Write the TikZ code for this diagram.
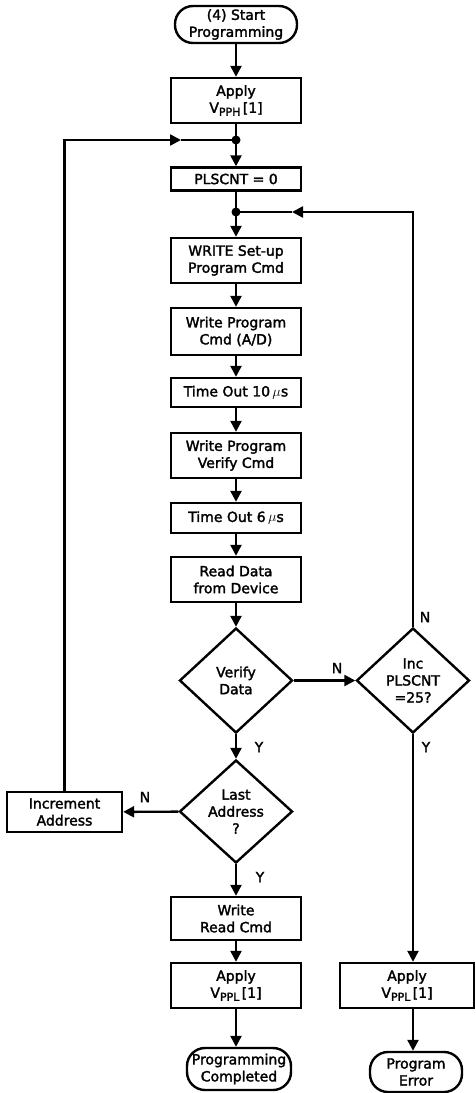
\documentclass[tikz,border=0pt]{standalone}
\usepackage{fontspec}
\setmainfont{DejaVu Sans}[BoldFont=DejaVu Sans,BoldFeatures={FakeBold=2}]
\usetikzlibrary{shapes.geometric,arrows.meta}

\newcommand{\vsub}[1]{V\raisebox{-3pt}{\fontsize{11}{11}\selectfont #1}\,[1]}

\tikzset{
  box/.style={draw,line width=2.4pt,minimum width=130pt,align=center,inner sep=2pt},
  term/.style={draw,line width=2.4pt,rounded corners=18pt,align=center,inner sep=2pt},
  decision/.style={draw,diamond,line width=2.4pt,minimum width=113pt,minimum height=105pt,align=center,inner sep=0pt},
  flow/.style={line width=2.4pt,-{Triangle[length=11pt,width=11pt]}},
  wire/.style={line width=2.4pt},
}

\begin{document}
\begin{tikzpicture}[x=1pt,y=-1pt,font=\fontsize{14}{17}\selectfont\bfseries]
        %\draw[very thin,gray,step=50] (0,0) grid (475,1093) ;
        \useasboundingbox (0,0) rectangle (475,1093) ;
        % main column
        \node[term,minimum width=122pt,minimum height=37pt] (start) at (236,24.5) {(4) Start\\Programming} ;
        \node[box,minimum height=45pt] (applyH) at (236,100.5) {Apply\\\vsub{PPH}} ;
        \coordinate (jA) at (236,140) ;
        \node[box,minimum height=23pt] (plscnt) at (236,179) {PLSCNT = 0} ;
        \coordinate (jB) at (236,212) ;
        \node[box,minimum height=45pt] (setup) at (236,260.5) {WRITE Set-up\\Program Cmd} ;
        \node[box,minimum height=47pt] (progcmd) at (236,331.5) {Write Program\\Cmd (A/D)} ;
        \node[box,minimum height=29pt] (wait10) at (236,392.5) {Time Out 10\,$\mu$s} ;
        \node[box,minimum height=45pt] (vfycmd) at (236,455.5) {Write Program\\Verify Cmd} ;
        \node[box,minimum height=30pt] (wait6) at (236,518) {Time Out 6\,$\mu$s} ;
        \node[box,minimum height=45pt] (readdata) at (236,579.5) {Read Data\\from Device} ;
        \node[decision] (verify) at (236,680.5) {Verify\\Data} ;
        \node[decision,minimum height=103pt] (lastaddr) at (236,811.5) {Last\\Address\\?} ;
        \node[box,minimum height=43pt] (readcmd) at (236,918.5) {Write\\Read Cmd} ;
        \node[box,minimum height=45pt] (applyL) at (236,985.5) {Apply\\\vsub{PPL}} ;
        \node[term,minimum width=104pt,minimum height=42pt] (done) at (239,1069) {Programming\\Completed} ;
        % left and right columns
        \node[box,minimum width=115pt,minimum height=40pt] (incaddr) at (64.5,812) {Increment\\Address} ;
        \node[decision] (incpls) at (413,680.5) {Inc\\PLSCNT\\=25?} ;
        \node[box,minimum width=134pt,minimum height=45pt] (applyR) at (407,985.5) {Apply\\\vsub{PPL}} ;
        \node[term,minimum width=92pt,minimum height=40pt] (error) at (416,1072) {Program\\Error} ;
        % straight flow
        \draw[flow] (start) -- (applyH) ;
        \draw[wire] (applyH) -- (jA) ;
        \draw[flow] (jA) -- (plscnt) ;
        \draw[wire] (plscnt) -- (jB) ;
        \draw[flow] (jB) -- (setup) ;
        \draw[flow] (setup) -- (progcmd) ;
        \draw[flow] (progcmd) -- (wait10) ;
        \draw[flow] (wait10) -- (vfycmd) ;
        \draw[flow] (vfycmd) -- (wait6) ;
        \draw[flow] (wait6) -- (readdata) ;
        \draw[flow] (readdata) -- (verify) ;
        \draw[flow] (verify) -- (lastaddr) ;
        \draw[flow] (lastaddr) -- (readcmd) ;
        \draw[flow] (readcmd) -- (applyL) ;
        \draw[flow] (applyL.south) -- (applyL.south |- done.north) ;
        % branches
        \draw[flow] (verify) -- (incpls) ;
        \draw[flow] (lastaddr) -- (incaddr) ;
        \draw[flow] (incpls.south) -- (incpls.south |- applyR.north) ;
        \draw[flow] (incpls.south |- applyR.south) -- (incpls.south |- error.north) ;
        % loops back
        \coordinate (tipL) at (181,140) ;
        \draw[flow] (incaddr.north) |- (tipL) ;
        \draw[wire] (tipL) -- (jA) ;
        \coordinate (tipR) at (292,212) ;
        \draw[flow] (incpls.north) |- (tipR) ;
        \draw[wire] (tipR) -- (jB) ;
        \fill (jA) circle (4.5pt) ;
        \fill (jB) circle (4.5pt) ;
        % Y / N labels
        \node (nVerify) at (337,668) {N} ;
        \node (yVerify) at (259,747) {Y} ;
        \node (nInc) at (425,617) {N} ;
        \node (yInc) at (426,747) {Y} ;
        \node (nLast) at (145,797) {N} ;
        \node (yLast) at (260,877) {Y} ;
      \end{tikzpicture}
\end{document}
